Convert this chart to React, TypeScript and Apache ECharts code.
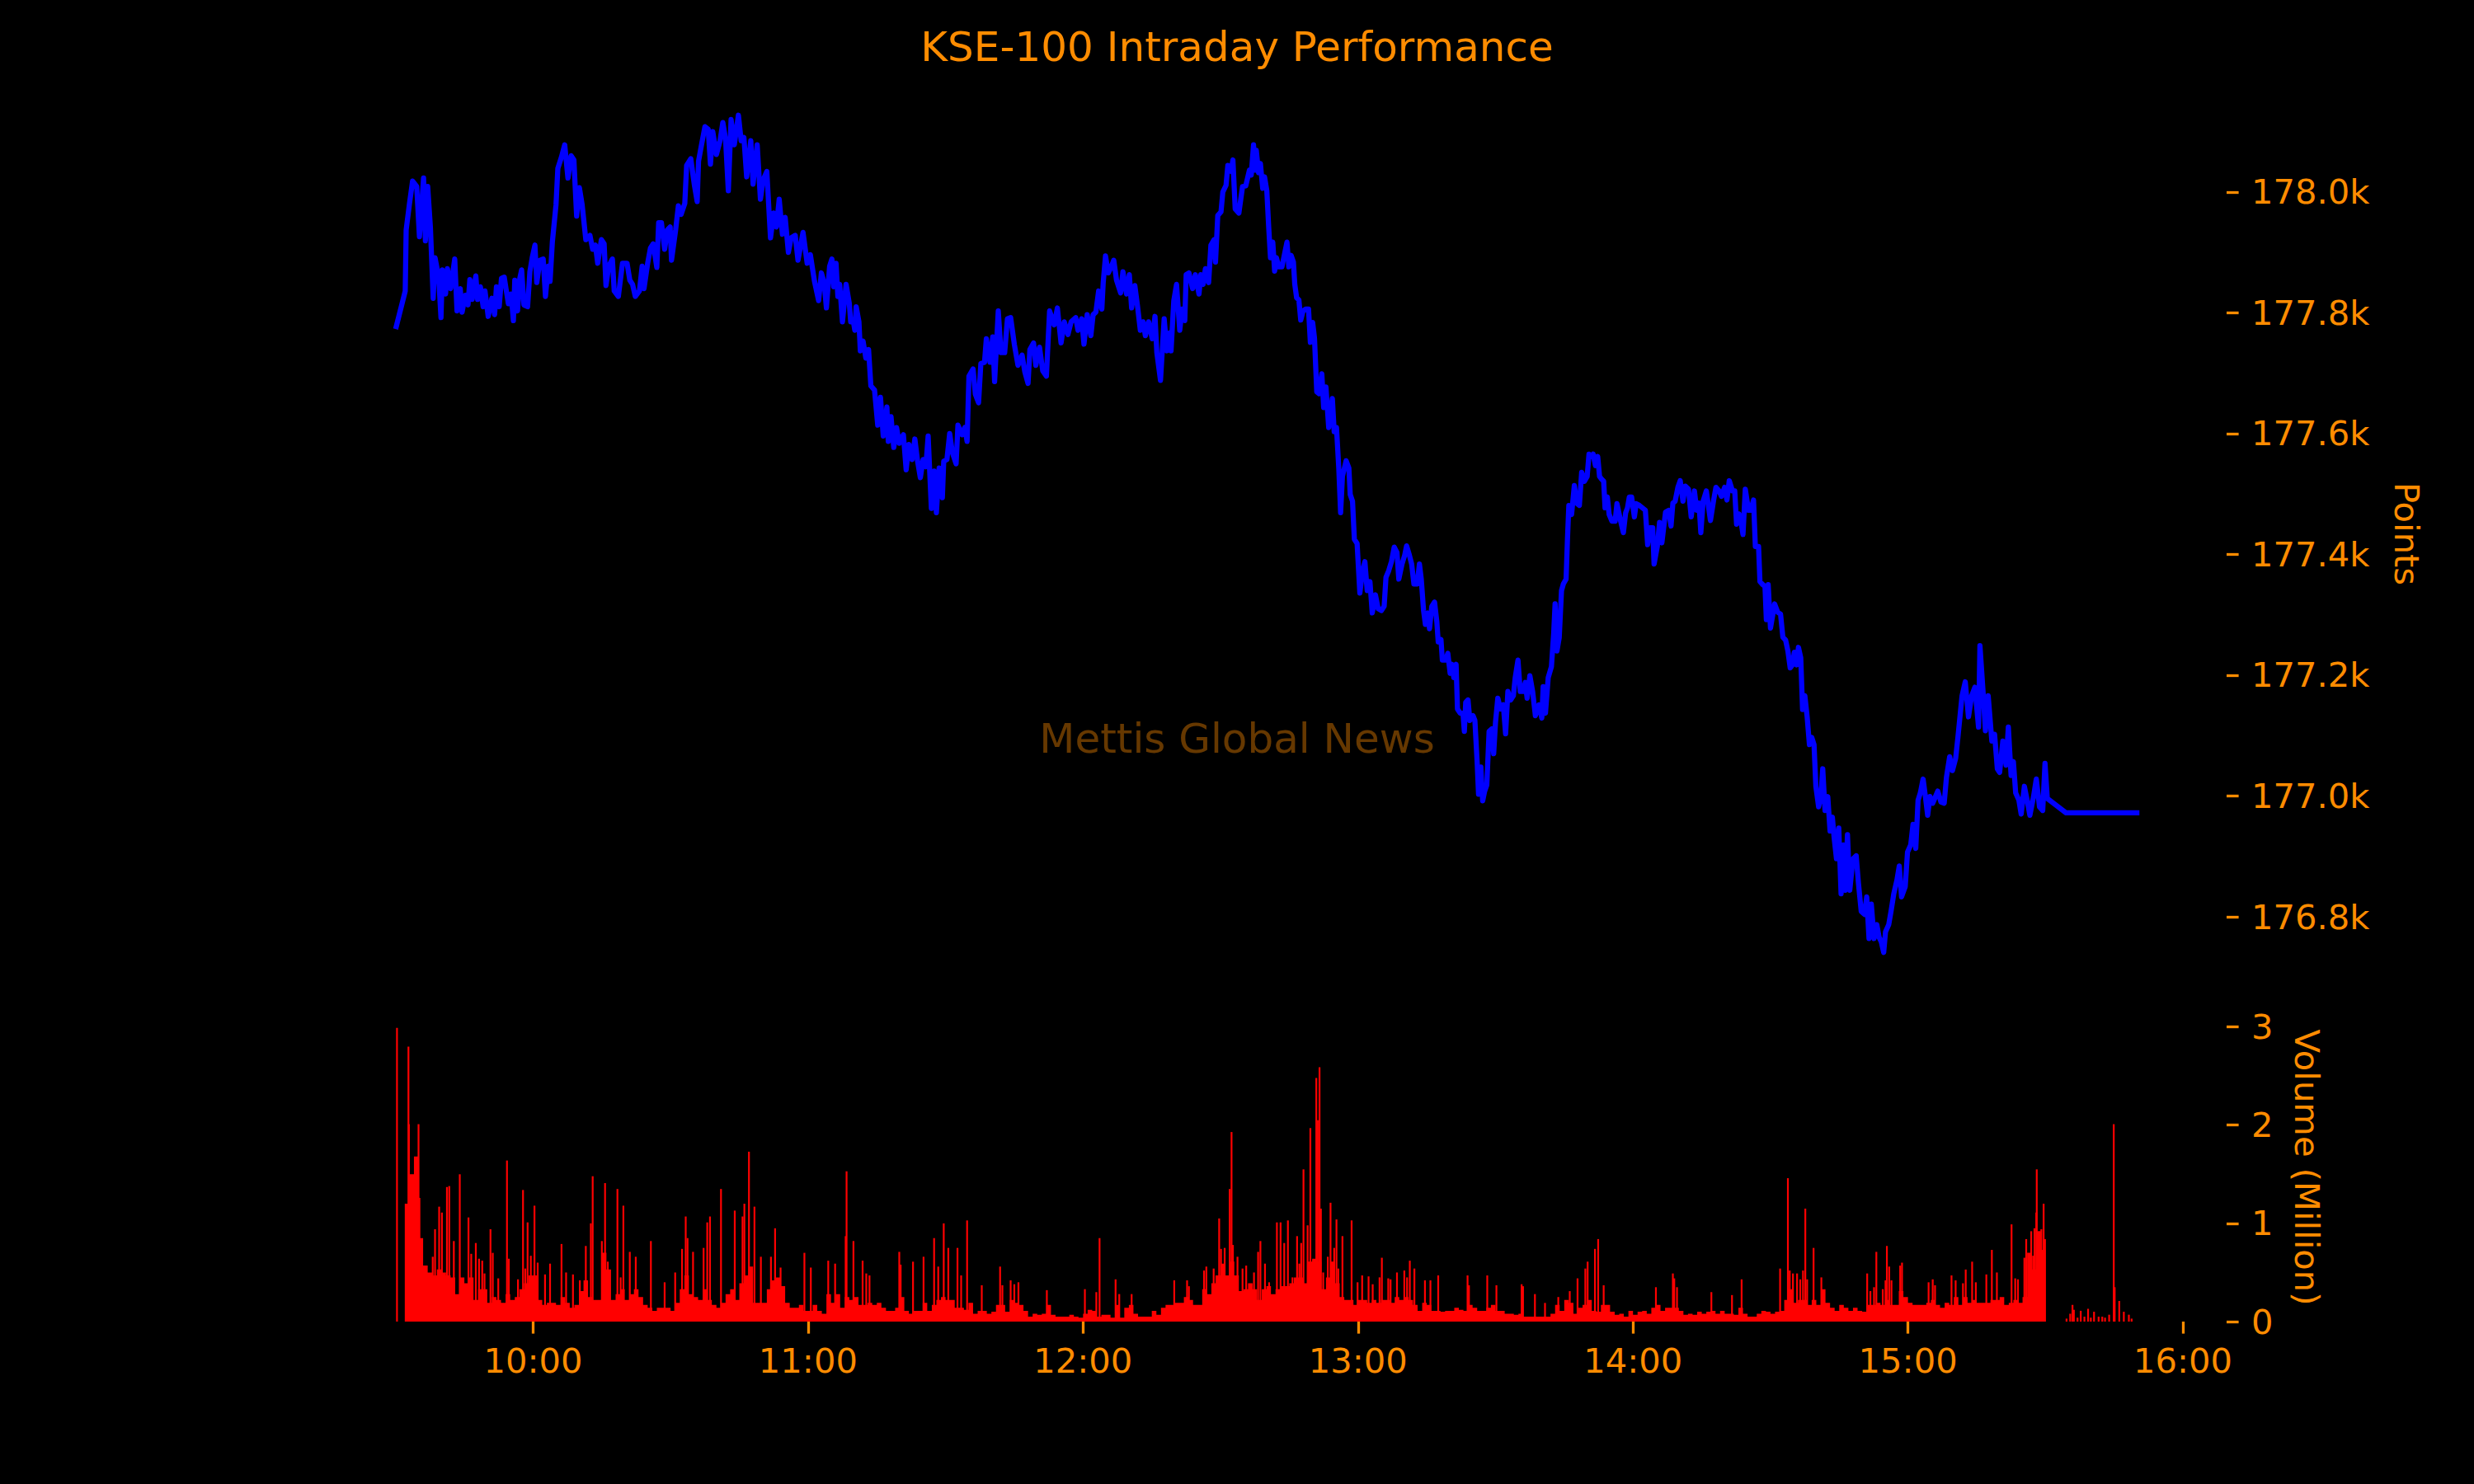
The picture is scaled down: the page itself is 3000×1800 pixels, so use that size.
import React, { useEffect, useRef } from "react";
import * as echarts from "echarts";

const TITLE = "KSE-100 Intraday Performance";
const WATERMARK = "Mettis Global News";
const ORANGE = "#ff8c00";
const FONT = "DejaVu Sans";

// tick positions (minutes since midnight / index points / million shares)
const timeTicks = [600, 660, 720, 780, 840, 900, 960];
const priceTicks = [176800, 177000, 177200, 177400, 177600, 177800, 178000];
const volumeTicks = [0, 1, 2, 3];

// KSE-100 index: [minutes since midnight, points]
const price0930: [number, number][] = [
  [570.0,177773],[572.1,177836],[572.3,177937],[573.0,177979],[573.7,178018],[574.6,178009],[575.2,177926],[576.1,178023],[576.5,177919],[577.0,178009],
  [577.6,177940],[578.2,177824],[578.6,177891],[579.4,177859],[579.9,177792],[580.2,177871],[580.9,177831],[581.3,177873],[582.0,177840],[582.9,177889],
  [583.4,177803],[584.1,177840],[584.5,177801],[585.2,177829],[585.8,177813],[586.2,177855],[586.7,177822],[587.5,177861],[587.9,177822],[588.5,177843],
  [589.1,177810],[589.5,177836],[590.2,177794],[591.0,177824],[591.6,177797],[592.0,177843],[592.6,177810],[593.1,177857],[593.7,177859],[594.6,177815],
  [595.2,177831],[595.7,177787],[596.0,177854],[596.6,177803],[597.1,177857],[597.5,177871],[598.0,177813],[598.8,177810],[599.3,177868],[599.8,177891],
  [600.4,177912],[600.8,177850],[601.5,177887],[602.2,177889],[602.7,177827],[603.3,177877],[603.7,177852],[604.2,177917],[605.0,177979],[605.4,178039],
  [606.2,178058],[606.9,178078],[607.6,178023],[608.3,178060],[608.9,178053],[609.5,177960],[610.1,178007],[610.7,177979],[611.5,177921],[612.4,177928],
  [613.0,177905],[613.6,177912],[614.1,177882],[614.9,177921],[615.5,177914],[615.9,177845],[616.5,177877],[617.3,177889],[617.7,177836],[618.6,177827],
  [619.5,177882],[620.5,177882],[621.1,177854],[621.7,177847],[622.3,177827],[623.2,177836],[623.8,177877],[624.2,177840],[625.0,177882],[625.6,177907],
  [626.2,177914],[627.0,177875],[627.4,177949],[628.0,177949],[628.7,177905],[629.3,177937],[629.9,177942],[630.2,177887],[631.1,177937],[631.7,177977],
  [632.3,177963],[633.1,177981],[633.5,178044],[634.4,178055],[635.2,178011],[635.8,177984],[636.1,178051],[636.7,178076],[637.5,178108],[638.2,178104],
  [638.7,178046],[639.2,178100],[640.0,178062],[640.8,178085],[641.4,178115],[642.0,178087],[642.6,178002],[643.2,178120],[643.9,178078],[644.8,178127],
  [645.4,178085],[646.0,178090],[646.6,178025],[647.5,178085],[648.0,178013],[648.9,178078],[649.6,177988],[650.2,178020],[651.0,178034],[651.8,177924],
  [652.5,177965],[653.1,177942],[653.7,177988],[654.4,177930],[655.0,177958],[655.7,177900],[656.3,177924],[657.2,177928],[657.8,177887],[658.9,177933],
  [659.8,177882]
];

const price1100: [number, number][] = [
  [660.5,177896],[661.4,177852],[662.3,177820],[662.9,177866],[663.5,177850],[664.0,177808],[664.7,177877],[665.2,177889],[665.6,177843],[666.1,177882],
  [666.5,177827],[666.9,177847],[667.5,177785],[668.3,177847],[669.0,177815],[669.3,177785],[669.9,177785],[670.2,177771],[670.5,177810],[671.1,177785],
  [671.4,177737],[672.0,177753],[672.6,177725],[673.2,177739],[673.7,177679],[674.5,177672],[675.2,177614],[675.8,177660],[676.4,177596],[677.2,177644],
  [677.5,177587],[678.1,177628],[678.7,177577],[679.3,177610],[679.9,177584],[680.8,177598],[681.4,177540],[682.0,177582],[682.7,177557],[683.3,177591],
  [683.9,177554],[684.5,177527],[685.1,177557],[685.7,177545],[686.2,177596],[686.9,177476],[687.5,177538],[688.0,177469],[688.6,177543],[689.3,177494],
  [689.6,177554],[690.3,177557],[690.9,177600],[691.5,177568],[692.3,177550],[692.7,177614],[693.6,177598],[694.2,177610],[694.7,177587],[695.1,177695],
  [696.0,177707],[696.5,177665],[697.2,177651],[697.7,177716],[698.5,177718],[698.9,177757],[699.7,177718],[700.3,177760],[700.7,177686],[701.5,177803],
  [702.1,177734],[702.9,177734],[703.5,177790],[704.2,177792],[705.0,177748],[705.8,177713],[706.7,177730],[707.3,177702],[708.0,177683],[708.4,177739],
  [709.2,177750],[709.7,177713],[710.5,177743],[711.2,177704],[712.0,177695],[712.7,177803],[713.7,177780],[714.4,177808],[715.2,177750],[715.9,177785],
  [716.7,177764],[717.4,177785],[718.4,177792],[718.9,177771],[719.7,177790],[720.2,177748],[720.9,177797],[721.7,177762],[722.2,177797],[722.8,177801],
  [723.4,177836],[724.1,177806],[724.4,177850],[724.9,177894],[725.5,177866],[726.1,177875],[726.7,177887],[727.3,177854],[728.2,177833],[728.7,177868],
  [729.5,177831],[730.1,177863],[730.6,177808],[731.3,177845],[731.9,177810],[732.5,177771],[733.1,177785],[733.6,177762],[734.3,177785],[735.1,177757],
  [735.7,177794],[736.1,177734],[736.9,177688],[737.7,177790],[738.3,177737],[738.9,177767],[739.2,177737],[739.8,177820],[740.4,177847],[741.1,177771],
  [741.6,177806],[742.2,177787],[742.5,177863],[743.1,177866],[743.9,177840],[744.5,177863],[745.3,177831],[745.7,177863],[746.2,177847],[746.7,177873],
  [747.4,177850],[747.9,177912],[748.6,177921],[748.9,177884],[749.4,177961],[750.1,177967],[750.5,178000],[751.2,178011],[751.6,178044],[752.3,178034],
  [752.7,178053],[753.2,177972],[754.0,177965],[754.8,178009]
];

const price1235: [number, number][] = [
  [755.5,178010],[756.3,178036],[756.7,178028],[757.2,178078],[757.5,178036],[757.8,178069],[758.3,178032],[758.7,178047],[759.2,178006],[759.6,178025],
  [760.1,178002],[760.5,177943],[760.9,177891],[761.4,177917],[761.8,177869],[762.2,177891],[762.7,177876],[763.4,177876],[763.8,177891],[764.5,177917],
  [764.9,177876],[765.4,177895],[765.9,177884],[766.2,177847],[766.6,177825],[767.1,177821],[767.5,177788],[768.0,177803],[768.6,177806],[769.2,177806],
  [769.6,177751],[770.1,177784],[770.5,177758],[771.0,177669],[771.5,177666],[772.1,177699],[772.5,177643],[773.0,177677],[773.6,177610],[774.1,177640],
  [774.4,177658],[774.8,177603],[775.3,177610],[775.8,177543],[776.2,177469],[776.6,177529],[777.4,177555],[778.0,177543],[778.3,177499],[778.8,177488],
  [779.2,177425],[779.8,177418],[780.4,177336],[781.0,177373],[781.5,177388],[782.0,177340],[782.6,177355],[783.1,177303],[783.8,177333],[784.4,177310],
  [785.1,177307],[785.7,177314],[786.1,177362],[786.7,177373],[787.3,177388],[787.9,177412],[788.5,177403],[788.9,177359],[789.6,177384],[790.2,177399],
  [790.6,177414],[791.2,177399],[791.7,177384],[792.2,177351],[792.9,177351],[793.4,177384],[793.8,177359],[794.3,177307],[794.7,177284],[795.2,177303],
  [795.6,177277],[796.1,177314],[796.7,177321],[797.2,177288],[797.5,177255],[798.1,177259],[798.4,177225],[799.1,177225],[799.6,177236],[800.1,177203],
  [800.5,177218],[800.9,177196],[801.4,177218],[801.7,177144],[802.3,177137],[802.9,177137],[803.2,177107],[803.5,177155],[804.0,177159],[804.4,177125],
  [805.1,177133],[805.5,177125],[806.0,177055],[806.3,177003],[806.8,177048],[807.2,176992],[807.6,177007],[808.1,177018],[808.6,177107],[809.2,177111],
  [809.6,177070],[810.0,177122],[810.5,177162],[811.1,177144],[811.7,177151],[812.2,177103],[812.7,177173],[813.3,177159],[813.9,177166],[814.3,177196],
  [814.9,177225],[815.4,177173],[816.0,177173],[816.5,177188],[816.9,177162],[817.5,177199],[818.1,177173],[818.7,177133],[819.5,177151],[820.1,177129],
  [820.4,177181],[820.9,177137],[821.5,177196],[822.2,177214],[822.7,177270],[823.0,177318],[823.4,177240],[823.9,177262],[824.4,177340],[824.8,177351],
  [825.4,177359],[825.7,177425],[826.0,177481],[826.6,177466],[827.2,177514],[827.8,177484],[828.3,177481],[828.8,177536],[829.4,177521],[830.0,177529],
  [830.4,177566],[830.9,177562],[831.3,177566],[831.8,177547],[832.3,177562],[832.7,177529],[833.1,177525],[833.6,177521],[833.9,177477],[834.4,177495],
  [834.8,177466],[835.4,177455],[836.1,177455],[836.5,177484],[837.3,177455],[837.9,177436],[838.4,177469],[838.8,177477],[839.2,177495],[839.7,177495],
  [840.3,177462],[840.7,177484],[841.4,177481]
];

const price1400: [number, number][] = [
  [842.7,177473],[843.2,177416],[843.7,177444],[844.3,177444],[844.6,177384],[845.3,177413],[845.8,177453],[846.3,177419],[847.1,177470],[847.8,177473],
  [848.3,177447],[848.7,177485],[849.2,177488],[849.8,177511],[850.3,177522],[850.9,177488],[851.4,177513],[852.1,177508],[852.7,177462],[853.4,177505],
  [853.9,177473],[854.4,177485],[854.8,177436],[855.3,177488],[856.0,177505],[856.9,177456],[857.6,177490],[858.1,177511],[858.8,177505],[859.3,177496],
  [860.0,177511],[860.5,177490],[861.0,177522],[861.7,177505],[862.2,177505],[862.6,177450],[863.1,177467],[863.6,177453],[864.0,177433],[864.5,177508],
  [865.2,177473],[865.7,177473],[866.3,177490],[866.7,177413],[867.4,177413],[867.7,177355],[868.3,177350],[868.8,177347],[869.1,177292],[869.5,177350],
  [870.0,177278],[870.9,177318],[871.6,177304],[872.2,177301],[872.7,177263],[873.3,177258],[873.8,177240],[874.3,177212],[874.8,177217],[875.2,177238],
  [875.7,177217],[876.1,177246],[876.6,177229],[877.0,177143],[877.5,177166],[878.0,177131],[878.5,177085],[879.0,177097],[879.5,177085],[879.9,177016],
  [880.5,176982],[881.0,176999],[881.4,177045],[881.9,176976],[882.5,176999],[883.0,176942],[883.5,176965],[883.9,176930],[884.4,176896],[884.9,176947],
  [885.4,176838],[885.9,176919],[886.3,176844],[886.8,176936],[887.3,176844],[888.0,176896],[888.7,176901],[889.2,176855],[889.8,176809],[890.5,176804],
  [891.0,176833],[891.5,176764],[892.0,176821],[892.6,176764],[893.2,176787],[893.7,176766],[894.2,176758],[894.7,176741],[895.1,176775],[895.8,176787],
  [896.3,176809],[896.9,176838],[897.6,176861],[898.1,176884],[898.6,176833],[899.4,176850],[899.9,176907],[900.6,176919],[901.1,176953],[901.7,176913],
  [902.2,176993],[902.7,177005],[903.3,177028],[903.8,176999],[904.3,176968],[904.8,176999],[905.4,176988],[906.0,176999],[906.5,177008],[907.2,176990],
  [907.9,176988],[908.4,177031],[909.1,177065],[909.7,177042],[910.4,177062],[910.9,177097],[911.8,177166],[912.5,177189],[913.2,177131],[913.9,177166],
  [914.6,177180],[915.4,177114],[915.7,177249],[916.4,177171],[916.9,177108],[917.5,177166],[918.3,177091],[918.9,177102],[919.5,177045],[920.0,177039],
  [920.7,177091],[921.4,177051],[921.9,177114],[922.5,177034],[923.0,177057],[923.5,177005],[924.2,176993],[924.7,176970],[925.4,177016],[926.0,176993],
  [926.6,176968],[927.4,176999],[928.0,177028],[928.7,176982],[929.4,176976],[929.9,177054],[930.4,176996],[934.5,176972],[950.5,176972]
];

// Volume (million shares): dense per-minute base level, first minute = 09:32
const VOL_BASE_START = 572;
const volBase = [
  1.2,1.5,1.68,0.85,0.57,0.5,0.47,0.53,0.5,0.47,
  0.45,0.28,0.45,0.39,0.45,0.22,0.33,0.33,0.19,0.25,
  0.22,0.19,0.28,0.22,0.25,0.33,0.39,0.47,0.47,0.22,
  0.17,0.19,0.19,0.17,0.25,0.19,0.14,0.17,0.31,0.42,
  0.25,0.22,0.22,0.7,0.53,0.22,0.28,0.33,0.22,0.28,
  0.33,0.25,0.17,0.14,0.11,0.14,0.14,0.14,0.11,0.19,
  0.33,0.47,0.28,0.25,0.22,0.33,0.22,0.17,0.14,0.19,
  0.28,0.33,0.22,0.39,0.47,0.56,0.19,0.19,0.19,0.33,
  0.42,0.45,0.36,0.19,0.14,0.14,0.17,0.11,0.11,0.17,
  0.11,0.08,0.28,0.19,0.28,0.14,0.25,0.22,0.25,0.17,
  0.17,0.19,0.17,0.19,0.14,0.11,0.11,0.14,0.25,0.11,
  0.08,0.11,0.11,0.19,0.11,0.17,0.22,0.25,0.22,0.22,
  0.14,0.14,0.12,0.19,0.08,0.11,0.11,0.08,0.10,0.17,
  0.17,0.10,0.22,0.19,0.17,0.11,0.05,0.08,0.07,0.08,
  0.17,0.07,0.05,0.05,0.05,0.07,0.05,0.04,0.08,0.12,
  0.11,0.05,0.07,0.07,0.04,0.17,0.04,0.14,0.17,0.08,
  0.05,0.05,0.05,0.11,0.07,0.14,0.17,0.17,0.19,0.19,
  0.25,0.22,0.17,0.17,0.33,0.28,0.39,0.47,0.59,0.47,
  0.61,0.47,0.31,0.33,0.39,0.33,0.22,0.33,0.36,0.28,
  0.33,0.36,0.36,0.39,0.45,0.45,0.39,0.61,0.64,0.61,
  0.33,0.45,0.61,0.39,0.25,0.22,0.22,0.17,0.22,0.22,
  0.19,0.22,0.19,0.22,0.22,0.19,0.25,0.22,0.25,0.22,
  0.17,0.11,0.19,0.17,0.11,0.11,0.10,0.11,0.11,0.14,
  0.12,0.11,0.17,0.14,0.11,0.11,0.14,0.17,0.11,0.11,
  0.08,0.08,0.07,0.08,0.05,0.05,0.05,0.05,0.05,0.05,
  0.08,0.17,0.11,0.22,0.19,0.08,0.14,0.17,0.22,0.11,
  0.10,0.17,0.17,0.10,0.07,0.08,0.05,0.11,0.07,0.10,
  0.11,0.08,0.14,0.17,0.11,0.14,0.14,0.14,0.11,0.07,
  0.08,0.07,0.10,0.08,0.10,0.11,0.08,0.11,0.08,0.08,
  0.07,0.14,0.08,0.05,0.05,0.08,0.11,0.10,0.08,0.10,
  0.11,0.22,0.33,0.19,0.22,0.22,0.17,0.22,0.17,0.33,
  0.19,0.14,0.11,0.17,0.14,0.11,0.14,0.11,0.10,0.17,
  0.17,0.19,0.17,0.22,0.17,0.17,0.31,0.25,0.19,0.17,
  0.17,0.17,0.19,0.22,0.17,0.14,0.19,0.17,0.25,0.17,
  0.25,0.19,0.22,0.19,0.19,0.19,0.22,0.22,0.25,0.17,
  0.19,0.22,0.19,0.25,0.70,0.53,0.92,0.73,0.67
];

// Individual volume spikes: [minutes since midnight, million shares]
const volSpikes: [number, number][] = [
  [570.3,2.99],[572.8,2.80],[572.9,2.01],[575.0,2.01],[575.2,1.26],[578.1,0.66],[578.6,0.94],[579.5,1.17],[580.1,1.11],[581.2,1.37],
  [581.7,1.38],[582.7,0.82],[584.0,1.50],[585.9,1.06],[586.5,0.69],[587.5,0.80],[588.2,0.64],[588.9,0.62],[589.4,0.49],[590.7,0.94],
  [591.2,0.70],[592.4,0.44],[594.3,1.64],[594.7,0.64],[596.7,0.43],[597.8,1.34],[598.3,0.54],[598.8,1.01],[599.5,0.67],[600.3,1.18],
  [601.0,0.60],[602.6,0.48],[603.7,0.59],[606.2,0.79],[607.2,0.50],[608.7,0.48],[610.2,0.42],[611.5,0.77],[612.6,1.00],[613.0,1.48],
  [615.0,0.82],[615.7,1.41],[616.3,0.61],[618.4,1.35],[619.1,0.45],[619.7,1.18],[621.1,0.71],[622.4,0.66],[625.7,0.82],[628.7,0.40],
  [631.0,0.50],[632.5,0.74],[633.3,1.07],[633.7,0.85],[634.9,0.71],[637.2,0.75],[638.0,1.01],[638.6,1.07],[641.0,1.35],[644.0,1.13],
  [645.7,1.07],[646.1,1.20],[647.1,1.73],[648.3,1.17],[649.7,0.66],[651.9,0.66],[652.8,0.95],[654.0,0.55],[659.2,0.70],[660.6,0.55],
  [664.4,0.62],[665.9,0.59],[668.2,0.87],[668.4,1.53],[669.9,0.82],[671.9,0.62],[672.7,0.49],[673.4,0.47],[679.9,0.71],[680.2,0.58],
  [682.9,0.61],[685.2,0.66],[687.5,0.85],[688.4,0.56],[689.6,1.00],[690.6,0.75],[692.6,0.75],[693.4,0.47],
  [694.7,1.03],[697.9,0.37],[701.9,0.56],[702.4,0.37],[704.2,0.42],[705.0,0.38],[705.9,0.40],[712.1,0.32],[720.4,0.33],[722.9,0.30],
  [723.6,0.85],[727.1,0.43],[727.9,0.28],[730.6,0.28],[739.9,0.42],[742.7,0.42],[743.1,0.36],[746.4,0.52],[746.9,0.56],[748.5,0.54],
  [749.1,0.47],[749.7,1.05],[750.1,0.74],[750.9,0.75],[752.0,1.35],[752.4,1.93],[752.7,0.78],[753.7,0.66],[754.8,0.54],[755.6,0.57],
  [757.3,0.50],[758.2,0.71],[758.7,0.82],[759.7,0.59],[760.6,0.40],[762.3,1.01],[763.1,1.01],[763.9,0.80],[764.7,1.03],[765.7,0.45],
  [766.7,0.87],[767.2,0.59],[767.6,0.80],[768.1,1.55],[769.0,0.98],[769.6,1.97],[770.2,0.63],[770.9,2.48],[771.2,2.05],[771.6,2.59],
  [771.9,1.15],[772.4,0.50],[773.4,0.66],[774.0,1.21],[774.8,0.75],[775.3,1.04],[775.7,0.54],[776.6,0.87],[778.6,1.03],[779.9,0.40],
  [780.9,0.47],[782.3,0.46],[783.2,0.38],[784.7,0.45],[785.2,0.65],[786.6,0.44],[787.1,0.43],[788.5,0.50],[790.1,0.52],[790.7,0.45],
  [791.3,0.62],[792.3,0.54],[794.6,0.42],[795.8,0.42],[797.5,0.47],[803.9,0.47],[804.2,0.37],[808.2,0.47],[810.2,0.37],[815.7,0.38],
  [816.0,0.36],[818.6,0.28],
  [820.8,0.19],[823.7,0.25],[826.2,0.31],[827.9,0.44],[829.6,0.54],[830.1,0.61],[831.7,0.74],[832.4,0.84],[833.6,0.37],[845.0,0.35],
  [848.7,0.49],[849.0,0.44],[849.6,0.35],[857.1,0.30],[861.6,0.27],[863.7,0.43],[872.1,0.54],[873.8,1.46],[874.2,0.52],[874.9,0.49],
  [875.8,0.49],[876.5,0.43],[877.1,0.52],[877.6,1.15],[878.0,0.43],[879.4,0.75],[881.1,0.45],[891.1,0.49],[891.8,0.31],[892.6,0.35],
  [893.1,0.71],[894.5,0.33],[895.1,0.42],[895.4,0.77],[895.9,0.56],[896.4,0.42],[898.3,0.57],[898.7,0.60],[904.5,0.40],[905.4,0.43],
  [905.9,0.37],[909.5,0.47],[910.4,0.42],[912.0,0.39],[912.6,0.53],[914.0,0.61],[914.8,0.40],[917.1,0.48],[918.3,0.73],[919.4,0.50],
  [922.6,0.99],[923.4,0.44],[924.0,0.43],[925.4,0.65],[925.8,0.84],[926.9,0.92],[927.3,0.67],[927.6,0.95],[928.0,1.11],[928.1,1.55],
  [928.6,0.92],[929.1,0.94],[929.6,1.20],[929.9,0.84],
  [934.6,0.03],[935.4,0.08],[935.9,0.17],[936.2,0.12],[937.0,0.04],[937.7,0.11],[938.5,0.05],[939.3,0.13],[939.9,0.04],[940.6,0.10],
  [941.6,0.05],[942.4,0.05],[943.0,0.04],[943.9,0.07],[944.9,2.01],[945.1,0.35],[946.1,0.21],[947.1,0.10],[948.2,0.07],[948.8,0.03]
];

const fmtTime = (v: number) => `${Math.floor(v / 60)}:${String(Math.round(v % 60)).padStart(2, "0")}`;
const fmtK = (v: number) => `${(v / 1000).toFixed(1)}k`;

export default function App() {
  const ref = useRef<HTMLDivElement>(null);

  useEffect(() => {
    document.body.style.margin = "0";
    document.body.style.background = "#000";
    if (!ref.current) return;
    const chart = echarts.init(ref.current, null, { renderer: "svg" });

    const price = [...price0930, ...price1100, ...price1235, ...price1400];
    const ts = price.map((p) => p[0]);
    const vs = price.map((p) => p[1]);
    const tMin = Math.min(...ts);
    const tMax = Math.max(...ts);
    const tPad = (tMax - tMin) * 0.05;
    const pMin = Math.min(...vs);
    const pMax = Math.max(...vs);
    const pPad = (pMax - pMin) * 0.05;
    const volTop = Math.max(...volBase, ...volSpikes.map((s) => s[1])) * 1.05;

    const baseData = volBase.map((v, i) => [VOL_BASE_START + i, v]);

    const tickStyle = { show: true, length: 14.6, lineStyle: { color: ORANGE, width: 3.3 } };
    const labelStyle = { color: ORANGE, fontSize: 41.67, fontFamily: FONT };

    chart.setOption({
      animation: false,
      backgroundColor: "#000",
      textStyle: { fontFamily: FONT },
      grid: [
        { left: 374, width: 2326, top: 89, height: 1117 },
        { left: 374, width: 2326, top: 1229, height: 374 },
      ],
      xAxis: [
        { type: "value", gridIndex: 0, min: tMin - tPad, max: tMax + tPad, show: false },
        {
          type: "value",
          gridIndex: 1,
          min: tMin - tPad,
          max: tMax + tPad,
          axisLine: { show: false },
          splitLine: { show: false },
          axisTick: { ...tickStyle, customValues: timeTicks },
          axisLabel: { ...labelStyle, margin: 26, customValues: timeTicks, formatter: fmtTime },
        },
      ],
      yAxis: [
        {
          type: "value",
          gridIndex: 0,
          position: "right",
          min: pMin - pPad,
          max: pMax + pPad,
          axisLine: { show: false },
          splitLine: { show: false },
          axisTick: { ...tickStyle, customValues: priceTicks },
          axisLabel: { ...labelStyle, margin: 30, customValues: priceTicks, formatter: fmtK },
          name: "Points",
          nameLocation: "middle",
          nameRotate: -90,
          nameGap: 197,
          nameTextStyle: { ...labelStyle },
        },
        {
          type: "value",
          gridIndex: 1,
          position: "right",
          min: 0,
          max: volTop,
          axisLine: { show: false },
          splitLine: { show: false },
          axisTick: { ...tickStyle, customValues: volumeTicks },
          axisLabel: { ...labelStyle, margin: 30, customValues: volumeTicks, formatter: (v: number) => String(Math.round(v)) },
          name: "Volume (Million)",
          nameLocation: "middle",
          nameRotate: -90,
          nameGap: 76,
          nameTextStyle: { ...labelStyle },
        },
      ],
      graphic: [
        {
          type: "text",
          left: "center",
          top: 32,
          style: { text: TITLE, fill: ORANGE, fontSize: 50, fontFamily: FONT },
        },
        {
          type: "text",
          x: 1500,
          y: 896,
          z: 0,
          style: {
            text: WATERMARK,
            fill: "rgba(255,140,0,0.4)",
            fontSize: 50,
            fontFamily: FONT,
            textAlign: "center",
            textVerticalAlign: "middle",
          },
        },
      ],
      series: [
        {
          name: "KSE-100",
          type: "line",
          xAxisIndex: 0,
          yAxisIndex: 0,
          data: price,
          showSymbol: false,
          symbol: "none",
          lineStyle: { color: "#0000ff", width: 6.25, join: "round" },
          z: 3,
        },
        {
          name: "Volume",
          type: "line",
          xAxisIndex: 1,
          yAxisIndex: 1,
          data: baseData,
          step: "end",
          showSymbol: false,
          symbol: "none",
          lineStyle: { width: 0, color: "#ff0000" },
          areaStyle: { color: "#ff0000", opacity: 1 },
        },
        {
          name: "Volume spikes",
          type: "bar",
          xAxisIndex: 1,
          yAxisIndex: 1,
          data: volSpikes,
          barWidth: 2.2,
          itemStyle: { color: "#ff0000" },
        },
      ],
    });

    return () => chart.dispose();
  }, []);

  return <div ref={ref} style={{ width: 3000, height: 1800, background: "#000" }} />;
}
